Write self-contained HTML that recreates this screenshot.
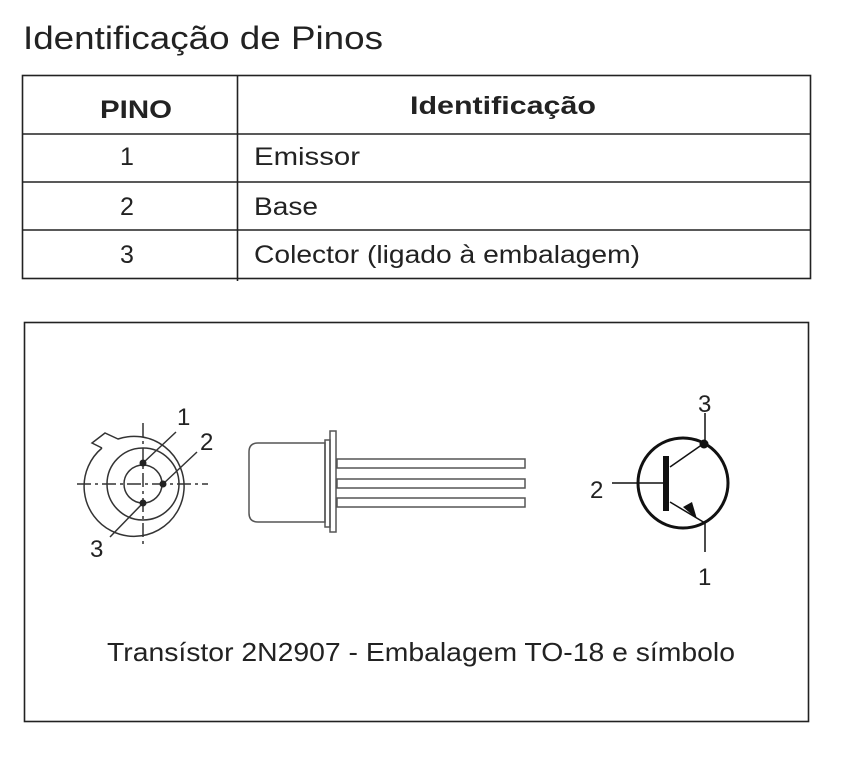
<!DOCTYPE html>
<html><head><meta charset="utf-8"><style>
html,body{margin:0;padding:0;background:#fff;}
svg{display:block;font-family:"Liberation Sans",sans-serif;}
</style></head><body>
<svg width="847" height="768" viewBox="0 0 847 768" xmlns="http://www.w3.org/2000/svg">
<text x="23" y="49" font-size="32" fill="#222" textLength="360" lengthAdjust="spacingAndGlyphs">Identificação de Pinos</text>
<g stroke="#222" stroke-width="1.6" fill="none">
<rect x="22.5" y="75.5" width="788" height="203"/>
<line x1="22" y1="134" x2="811" y2="134"/>
<line x1="22" y1="182" x2="811" y2="182"/>
<line x1="22" y1="230" x2="811" y2="230"/>
<line x1="237.5" y1="75" x2="237.5" y2="281"/>
</g>
<g font-size="25" fill="#222">
<text x="100" y="118" font-weight="bold" textLength="72" lengthAdjust="spacingAndGlyphs">PINO</text>
<text x="410" y="114" font-weight="bold" textLength="186" lengthAdjust="spacingAndGlyphs">Identificação</text>
<text x="127" y="165" text-anchor="middle">1</text>
<text x="127" y="215" text-anchor="middle">2</text>
<text x="127" y="263" text-anchor="middle">3</text>
<text x="254" y="165" textLength="106" lengthAdjust="spacingAndGlyphs">Emissor</text>
<text x="254" y="215" textLength="64" lengthAdjust="spacingAndGlyphs">Base</text>
<text x="254" y="263" textLength="386" lengthAdjust="spacingAndGlyphs">Colector (ligado à embalagem)</text>
</g>
<rect x="24.5" y="322.5" width="784" height="399" fill="none" stroke="#222" stroke-width="1.6"/>
<g stroke="#333" stroke-width="1.5" fill="none">
<path d="M102 448 L92 443 L105 433 L118 439 A50 50 0 1 1 102 448"/>
<circle cx="143" cy="484" r="36"/>
<circle cx="143" cy="484" r="19"/>
<line x1="77" y1="484" x2="208" y2="484" stroke-dasharray="14,4,3,4"/>
<line x1="143" y1="423" x2="143" y2="547" stroke-dasharray="14,4,3,4"/>
<line x1="143" y1="463" x2="176" y2="432"/>
<line x1="163" y1="484" x2="197" y2="452"/>
<line x1="143" y1="503" x2="110" y2="537"/>
</g>
<g fill="#222"><circle cx="143" cy="463" r="3.5"/><circle cx="163" cy="484" r="3.5"/><circle cx="143" cy="503" r="3.5"/></g>
<g font-size="24" fill="#222">
<text x="177" y="425">1</text><text x="200" y="450">2</text><text x="90" y="557">3</text>
</g>
<g stroke="#555" stroke-width="1.5" fill="none">
<path d="M325 443 H258 Q249 443 249 452 V513 Q249 522 258 522 H325 Z"/>
<rect x="325" y="440" width="5" height="87"/>
<rect x="330" y="431" width="6" height="101"/>
<rect x="337" y="459" width="188" height="9"/>
<rect x="337" y="479" width="188" height="9"/>
<rect x="337" y="498" width="188" height="9"/>
</g>
<g stroke="#111" fill="none">
<circle cx="683" cy="483" r="45" stroke-width="3"/>
<line x1="612" y1="483" x2="666" y2="483" stroke-width="1.5"/>
<line x1="670" y1="467" x2="703" y2="444" stroke-width="1.5"/>
<line x1="705" y1="444" x2="705" y2="413" stroke-width="1.5"/>
<line x1="670" y1="502" x2="705" y2="523" stroke-width="1.5"/>
<line x1="705" y1="523" x2="705" y2="552" stroke-width="1.5"/>
</g>
<rect x="663" y="456" width="6" height="55" fill="#111"/>
<circle cx="704" cy="444" r="4.5" fill="#111"/>
<polygon points="697,519 683,507 692,502" fill="#111"/>
<g font-size="24" fill="#222">
<text x="698" y="412">3</text><text x="590" y="498">2</text><text x="698" y="585">1</text>
</g>
<text x="107" y="661" font-size="26" fill="#222" textLength="628" lengthAdjust="spacingAndGlyphs">Transístor 2N2907 - Embalagem TO-18 e símbolo</text>
</svg>
</body></html>
